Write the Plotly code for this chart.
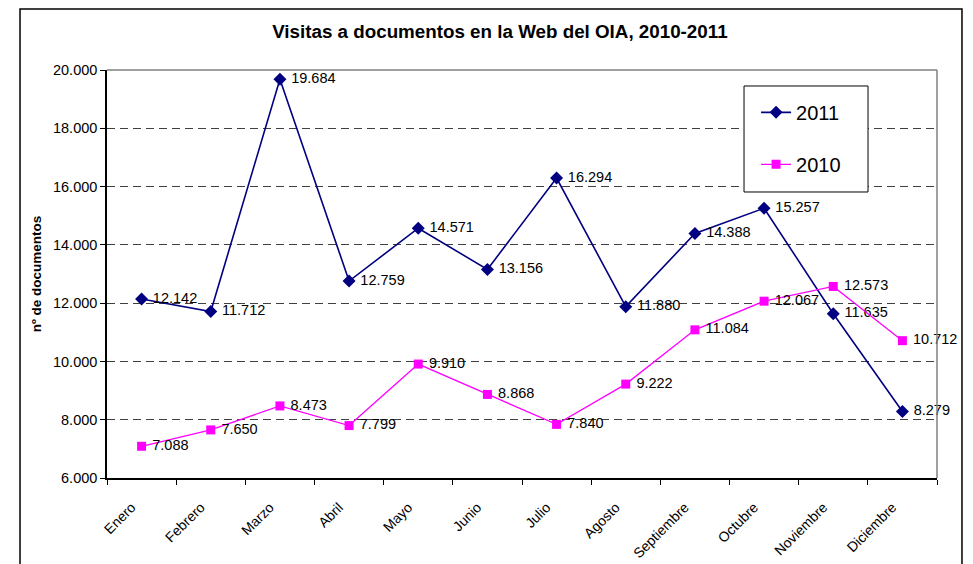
import plotly.graph_objects as go

months = ["Enero", "Febrero", "Marzo", "Abril", "Mayo", "Junio", "Julio",
          "Agosto", "Septiembre", "Octubre", "Noviembre", "Diciembre"]
visits_2011 = [12142, 11712, 19684, 12759, 14571, 13156, 16294, 11880, 14388, 15257, 11635, 8279]
visits_2010 = [7088, 7650, 8473, 7799, 9910, 8868, 7840, 9222, 11084, 12067, 12573, 10712]
y_ticks = [6000, 8000, 10000, 12000, 14000, 16000, 18000, 20000]

FONT = "Liberation Sans, Arial, sans-serif"
NB = "\u00a0"

fig = go.Figure()
fig.add_trace(go.Scatter(
    x=months, y=visits_2011, name="2011", legendgroup="a",
    mode="lines+markers+text",
    line=dict(color="#000080", width=1.6),
    marker=dict(symbol="diamond", size=10, color="#000080"),
    texttemplate=NB + "%{y:,}", textposition="middle right",
    textfont=dict(family=FONT, size=14.5, color="#000000"),
    cliponaxis=False,
))
fig.add_trace(go.Scatter(
    x=months, y=visits_2010, name="2010", legendgroup="b",
    mode="lines+markers+text",
    line=dict(color="#FF00FF", width=1.3),
    marker=dict(symbol="square", size=9, color="#FF00FF"),
    texttemplate=NB + "%{y:,}", textposition="middle right",
    textfont=dict(family=FONT, size=14.5, color="#000000"),
    cliponaxis=False,
))

fig.update_layout(
    width=957, height=556,
    margin=dict(l=99, r=28, t=62, b=86, autoexpand=False),
    paper_bgcolor="white", plot_bgcolor="white",
    separators=",.",
    font=dict(family=FONT, size=14.5, color="#000000"),
    title=dict(text="<b>Visitas a documentos en la Web del OIA, 2010-2011</b>",
               x=0.514, xanchor="center", y=0.957, yanchor="middle",
               font=dict(family=FONT, size=18.8, color="#000000")),
    legend=dict(x=0.782, y=0.944, xanchor="left", yanchor="top",
                bgcolor="rgba(0,0,0,0)", borderwidth=0,
                font=dict(family=FONT, size=20, color="#000000"),
                traceorder="grouped", tracegroupgap=23),
    showlegend=True,
)
fig.update_xaxes(
    type="category", tickangle=-45, tickson="boundaries",
    ticks="outside", ticklen=5, tickcolor="#000000",
    showline=True, linecolor="#000000", linewidth=1.5,
    showgrid=False, tickfont=dict(family=FONT, size=14),
    ticklabelstandoff=14, ticklabelshift=-10, automargin=False,
    range=[-0.5, 11.5],
)
fig.update_yaxes(
    range=[6000, 20000], tickvals=y_ticks, tickformat=",",
    ticks="outside", ticklen=5, tickcolor="#000000",
    showline=True, linecolor="#000000", linewidth=1.5,
    showgrid=True, gridcolor="#404040", gridwidth=1, griddash="8px,5px",
    zeroline=False, tickfont=dict(family=FONT, size=14.5), automargin=False,
    title=dict(text="<b>nº de documentos</b>", font=dict(family=FONT, size=13.5), standoff=8),
)

# plot-area top/right gray border
fig.add_shape(type="line", xref="paper", yref="paper", x0=0, x1=1, y0=1, y1=1,
              line=dict(color="#808080", width=1.5))
fig.add_shape(type="line", xref="paper", yref="paper", x0=1, x1=1, y0=0, y1=1,
              line=dict(color="#808080", width=1.5))
# legend box
fig.add_shape(type="rect", xref="paper", yref="paper",
              x0=0.7675, x1=0.9169, y0=0.701, y1=0.9608,
              fillcolor="white", line=dict(color="#000000", width=1), layer="above")
# outer chart frame
fig.add_shape(type="rect", xref="paper", yref="paper",
              x0=-0.1048, x1=1.0301, y0=-0.25, y1=1.1495,
              line=dict(color="#000000", width=1.5), layer="below")

fig.write_html("out.html")
